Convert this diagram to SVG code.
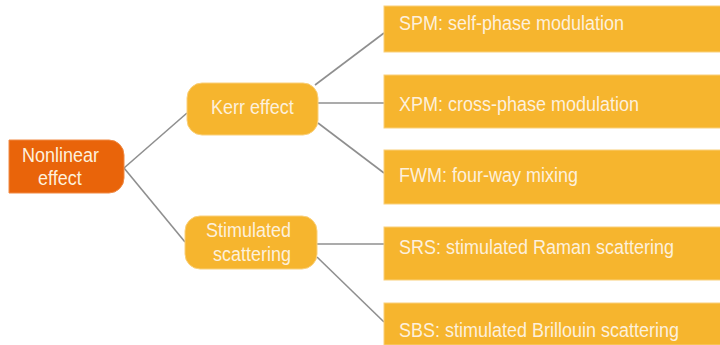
<svg xmlns="http://www.w3.org/2000/svg" width="720" height="345" viewBox="0 0 720 345">
<style>
.conn line{stroke:#8f8f8f;stroke-width:1.6;fill:none}
.root{fill:#E9640A;stroke:#F08A45;stroke-width:1}
.mid{fill:#F6B52E;stroke:#FAD07A;stroke-width:1}
.leaf{fill:#F6B52E;stroke:#FAD07A;stroke-width:1}
text{font-family:"Liberation Sans",Arial,sans-serif;font-size:18px;fill:#FDF0DC}
</style>
<rect width="720" height="345" fill="#ffffff"/>
<g id="connectors" class="conn">
<line x1="124" y1="168" x2="187" y2="113"/>
<line x1="124" y1="168" x2="185" y2="242"/>
<line x1="315" y1="85" x2="384" y2="33"/>
<line x1="318" y1="103" x2="384" y2="103"/>
<line x1="318" y1="123" x2="384" y2="173"/>
<line x1="317" y1="244" x2="384" y2="244"/>
<line x1="317" y1="257" x2="384" y2="322"/>
</g>
<g id="nonlinear">
<path class="root" d="M9 140 H109 A15 15 0 0 1 124 155 V178 A15 15 0 0 1 109 193 H9 Z"/>
<text transform="translate(22,162) scale(1,1.17)">Nonlinear</text>
<text transform="translate(38,185) scale(1,1.17)">effect</text>
</g>
<g id="kerr">
<rect class="mid" x="187" y="83" width="131" height="52" rx="15"/>
<text transform="translate(211,114) scale(1,1.17)">Kerr effect</text>
</g>
<g id="stimulated">
<rect class="mid" x="185" y="216" width="132" height="53" rx="15"/>
<text transform="translate(206,237) scale(1,1.17)">Stimulated</text>
<text transform="translate(213,261) scale(1,1.17)">scattering</text>
</g>
<g id="spm">
<rect class="leaf" x="384" y="6" width="340" height="46"/>
<text transform="translate(399,30) scale(1,1.17)">SPM: self-phase modulation</text>
</g>
<g id="xpm">
<rect class="leaf" x="384" y="75" width="340" height="53"/>
<text transform="translate(399,111) scale(1,1.17)">XPM: cross-phase modulation</text>
</g>
<g id="fwm">
<rect class="leaf" x="384" y="150" width="340" height="54"/>
<text transform="translate(399,182) scale(1,1.17)">FWM: four-way mixing</text>
</g>
<g id="srs">
<rect class="leaf" x="384" y="227" width="340" height="53"/>
<text transform="translate(399,254) scale(1,1.17)">SRS: stimulated Raman scattering</text>
</g>
<g id="sbs">
<rect class="leaf" x="384" y="303" width="340" height="42"/>
<text transform="translate(399,337) scale(1,1.17)">SBS: stimulated Brillouin scattering</text>
</g>
</svg>
